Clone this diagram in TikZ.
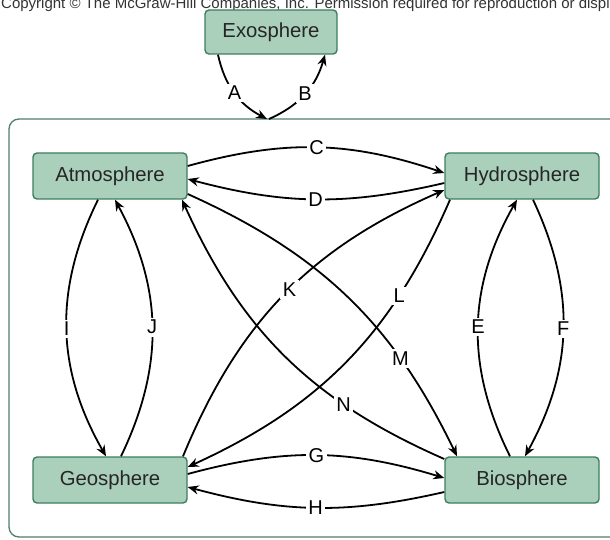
\documentclass[tikz,border=0pt]{standalone}
\usepackage{fontspec}
\setmainfont{Liberation Sans}
\usepackage{xcolor}
\usepackage{tikz}
\usetikzlibrary{arrows.meta, positioning}

\definecolor{boxfill}{RGB}{170,207,187}
\definecolor{boxline}{RGB}{62,125,95}
\definecolor{frameline}{RGB}{80,125,110}

\begin{document}
\begin{tikzpicture}[x=1pt, y=-1pt,
	sphere/.style={draw=boxline, line width=1.4pt, fill=boxfill, rounded corners=4pt, minimum width=154pt, minimum height=46pt, font=\fontsize{20.3}{22}\selectfont, text=black!85},
	flow/.style={line width=1.8pt, -{Stealth[length=11pt,width=9pt]}},
	lbl/.style={fill=white, inner sep=2.5pt, font=\fontsize{20}{22}\selectfont}]
	\useasboundingbox (0,0) rectangle (610,540);
	\clip (0,0) rectangle (610,540);
	
	% Copyright line at the top (cut off by the page)
	\node[anchor=base west, inner sep=0, font=\fontsize{15}{17}\selectfont, text=black!80] (copy) at (1,8.5) {Copyright © The McGraw-Hill Companies, Inc. Permission required for reproduction or display.};
	
	% Frame round the four spheres
	\draw[frameline, line width=1.3pt, rounded corners=10pt] (9,119) rectangle (660,537);
	\coordinate (ent) at (268,119);
	
	% The spheres
	\node[sphere, minimum width=132pt, minimum height=44pt] (exo) at (271,32) {Exosphere};
	\node[sphere] (atm) at (110,176) {Atmosphere};
	\node[sphere] (hyd) at (522,176) {Hydrosphere};
	\node[sphere] (geo) at (110,480) {Geosphere};
	\node[sphere] (bio) at (522,480) {Biosphere};
	
	% Exosphere to and from the frame
	\draw[flow] ([xshift=-53pt]exo.south) to[bend right=25] node[lbl, pos=0.5] {A} ([xshift=-1pt]ent);
	\draw[flow] ([xshift=1pt]ent) to[bend right=25] node[lbl, pos=0.5] {B} ([xshift=54pt]exo.south);
	
	% Top and bottom pairs
	\draw[flow] ([yshift=10pt]atm.east) to[bend left=17] node[lbl] {C} ([yshift=3pt]hyd.west);
	\draw[flow] ([yshift=-7pt]hyd.west) to[bend left=14] node[lbl] {D} ([yshift=-3pt]atm.east);
	\draw[flow] ([yshift=6pt]geo.east) to[bend left=16] node[lbl] {G} ([yshift=2pt]bio.west);
	\draw[flow] ([yshift=-12pt]bio.west) to[bend left=14] node[lbl] {H} ([yshift=-7pt]geo.east);
	
	% Left and right pairs
	\draw[flow] ([xshift=-12pt]atm.south) to[bend right=28] node[lbl] {I} ([xshift=-4pt]geo.north);
	\draw[flow] ([xshift=11pt]geo.north) to[bend right=27] node[lbl] {J} ([xshift=5pt]atm.south);
	\draw[flow] ([xshift=-12pt]bio.north) to[bend left=28] node[lbl] {E} ([xshift=-5pt]hyd.south);
	\draw[flow] ([xshift=11pt]hyd.south) to[bend left=27] node[lbl] {F} ([xshift=3pt]bio.north);
	
	% Diagonals
	\draw[flow] ([xshift=73pt]geo.north) to[bend left=22] node[lbl, pos=0.52] {K} ([yshift=-14pt]hyd.west);
	\draw[flow] ([xshift=-72pt]hyd.south) to[bend left=21] node[lbl, pos=0.27] {L} ([yshift=13pt]geo.east);
	\draw[flow] ([yshift=-18pt]atm.east) to[bend left=20] node[lbl, pos=0.72] {M} ([xshift=-65pt]bio.north);
	\draw[flow] ([yshift=21pt]bio.west) to[bend left=21] node[lbl, pos=0.29] {N} ([xshift=72pt]atm.south);
	
\end{tikzpicture}
\end{document}
